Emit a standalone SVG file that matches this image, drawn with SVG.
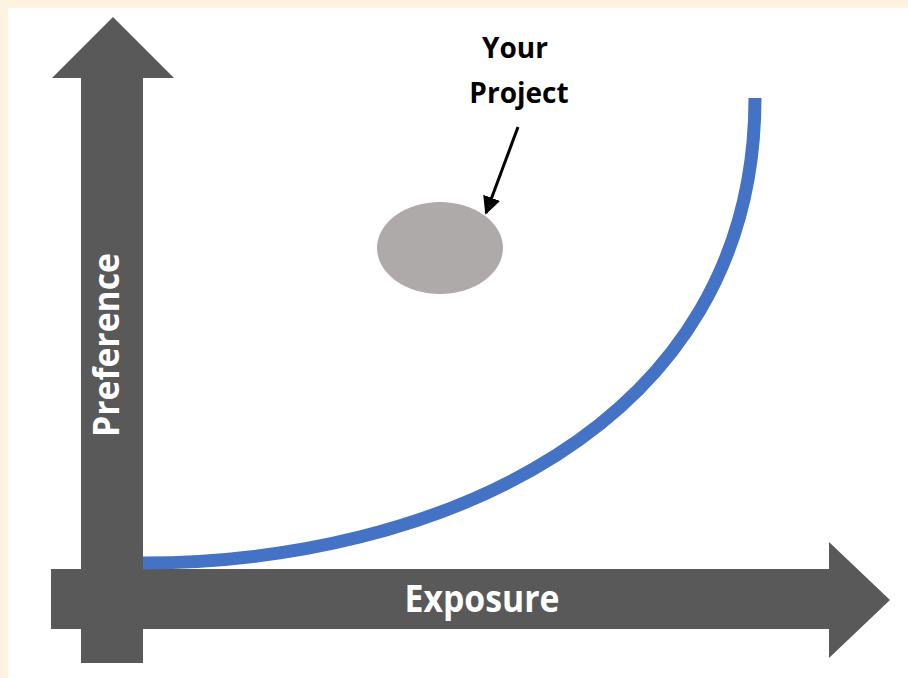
<svg xmlns="http://www.w3.org/2000/svg" width="908" height="678" viewBox="0 0 908 678">
  <style>
    .axis { fill: #595959; }
    .axis-label { fill: #ffffff; font-family: "Open Sans", "Liberation Sans", sans-serif; font-weight: bold; }
    .callout { fill: #000000; font-family: "Open Sans", "Liberation Sans", sans-serif; font-weight: bold; font-size: 28px; }
  </style>
  <defs>
    <marker id="head" viewBox="0 0 10 10" refX="9" refY="5" markerWidth="6" markerHeight="6" orient="auto" markerUnits="strokeWidth">
      <path d="M0,0 L10,5 L0,10 z" fill="#000000"/>
    </marker>
  </defs>

  <!-- page frame -->
  <rect x="0" y="0" width="908" height="678" fill="#fdf3df"/>
  <rect x="8" y="8" width="900" height="670" fill="#ffffff"/>

  <!-- vertical axis: Preference -->
  <g id="axis-preference">
    <polygon class="axis" points="113,17 174,78 143,78 143,663 81,663 81,78 52,78"/>
    <text class="axis-label" font-size="36" transform="translate(119,345) rotate(-90)" text-anchor="middle" textLength="184" lengthAdjust="spacingAndGlyphs">Preference</text>
  </g>

  <!-- horizontal axis: Exposure -->
  <g id="axis-exposure">
    <polygon class="axis" points="51,569 829,569 829,542 890,600 829,658 829,629 51,629"/>
    <text class="axis-label" font-size="37" x="482" y="612" text-anchor="middle" textLength="155" lengthAdjust="spacingAndGlyphs">Exposure</text>
  </g>

  <!-- preference curve -->
  <g id="curve">
    <path d="M143,563 C 430,563 755,430 755,98" fill="none" stroke="#4472c4" stroke-width="13"/>
  </g>

  <!-- project marker -->
  <g id="project">
    <ellipse cx="440" cy="248" rx="63" ry="46" fill="#aeaaaa"/>
  </g>

  <!-- callout label -->
  <g id="label-your-project">
    <text class="callout" x="515" y="58" text-anchor="middle">Your</text>
    <text class="callout" x="519" y="103" text-anchor="middle">Project</text>
  </g>

  <!-- connectors -->
  <g id="connectors">
    <line x1="518" y1="127" x2="486" y2="213" stroke="#000000" stroke-width="3" marker-end="url(#head)"/>
  </g>
</svg>
